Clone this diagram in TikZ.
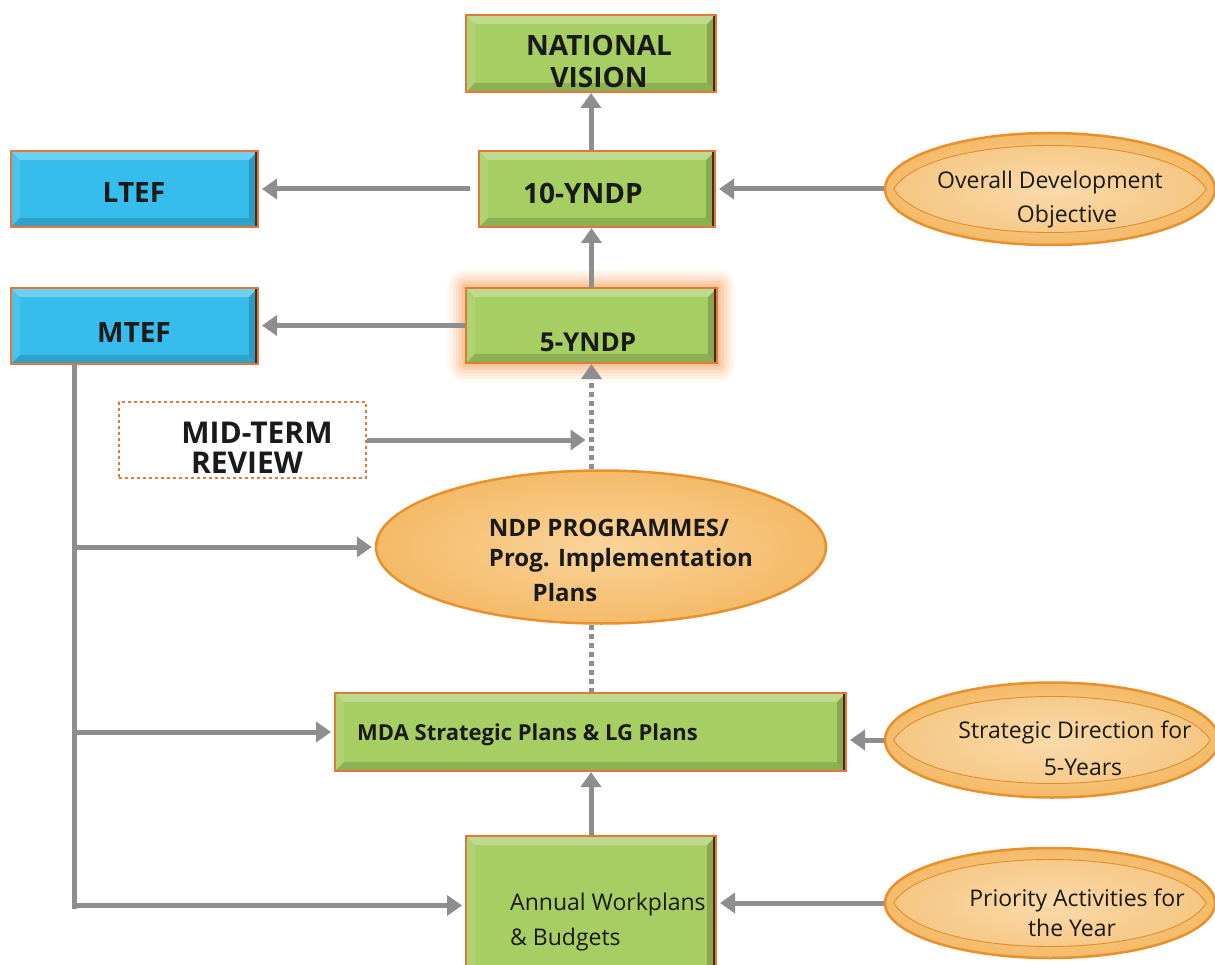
\documentclass[tikz,border=0pt]{standalone}
\usepackage{fontspec}
\setmainfont{Open Sans}
\usetikzlibrary{shapes.geometric,arrows.meta,backgrounds}

\definecolor{boxgreen}{HTML}{A6CE62}
\definecolor{boxblue}{HTML}{37BDEC}
\definecolor{boxedge}{HTML}{E4773A}
\definecolor{darkedge}{HTML}{4A2812}
\definecolor{ovallight}{HTML}{FAD49A}
\definecolor{ovaldark}{HTML}{F4BA68}
\definecolor{ovaledge}{HTML}{E8912C}
\definecolor{arrowgray}{HTML}{8E8E8E}
\definecolor{glow}{HTML}{F8A86A}
\definecolor{inktext}{HTML}{1A1A1A}

\tikzset{
  bevelbox/.style={rectangle, inner sep=0pt, fill=#1, draw=boxedge, line width=2pt,
    path picture={
      \fill[white,opacity=.28] (path picture bounding box.north west) -- (path picture bounding box.north east)
        -- ([shift={(-9pt,-9pt)}]path picture bounding box.north east) -- ([shift={(9pt,-9pt)}]path picture bounding box.north west) -- cycle;
      \fill[white,opacity=.10] (path picture bounding box.north west) -- (path picture bounding box.south west)
        -- ([shift={(9pt,9pt)}]path picture bounding box.south west) -- ([shift={(9pt,-9pt)}]path picture bounding box.north west) -- cycle;
      \fill[black,opacity=.14] (path picture bounding box.south west) -- (path picture bounding box.south east)
        -- ([shift={(-9pt,9pt)}]path picture bounding box.south east) -- ([shift={(9pt,9pt)}]path picture bounding box.south west) -- cycle;
      \fill[black,opacity=.18] (path picture bounding box.north east) -- (path picture bounding box.south east)
        -- ([shift={(-9pt,9pt)}]path picture bounding box.south east) -- ([shift={(-9pt,-9pt)}]path picture bounding box.north east) -- cycle;
      \draw[darkedge,line width=7pt] (path picture bounding box.north east) -- (path picture bounding box.south east);
    }},
  oval/.style={ellipse, inner sep=0pt, draw=ovaledge, line width=2.5pt,
    inner color=ovallight, outer color=ovaldark},
  lens/.style={draw=ovaledge!75!brown, line width=0.9pt, fill=white, fill opacity=.16},
  title/.style={font=\fontsize{28}{32}\selectfont\bfseries, text=inktext, inner sep=0pt, align=center},
  midbold/.style={font=\fontsize{24}{30}\selectfont\bfseries, text=inktext, inner sep=0pt},
  plain/.style={font=\fontsize{23}{28}\selectfont, text=inktext, inner sep=0pt},
  tip/.style={-{Triangle[length=15pt,width=20pt]}},
  arr/.style={draw=arrowgray, line width=5pt, tip},
  bus/.style={draw=arrowgray, line width=5pt},
  dotline/.style={draw=arrowgray, line width=5pt, dash pattern=on 5pt off 4pt},
}

\begin{document}
\begin{tikzpicture}[x=1pt,y=-1pt]
\useasboundingbox (0,0) rectangle (1215,965);
\clip (0,0) rectangle (1215,965);

% boxes of the plan hierarchy
\node[bevelbox=boxgreen, minimum width=250pt, minimum height=77pt] (vision) at (591,53.5) {};
\node[bevelbox=boxblue,  minimum width=247pt, minimum height=76pt] (ltef)   at (134.5,189) {};
\node[bevelbox=boxgreen, minimum width=236pt, minimum height=76pt] (ndp10)  at (597,189) {};
\node[bevelbox=boxblue,  minimum width=247pt, minimum height=76pt] (mtef)   at (134.5,326) {};
\node[bevelbox=boxgreen, minimum width=251pt, minimum height=75pt] (ndp5)   at (591.5,325.5) {};
\node[bevelbox=boxgreen, minimum width=511pt, minimum height=78pt] (mda)    at (590.5,732) {};
\node[bevelbox=boxgreen, minimum width=250pt, minimum height=139pt] (annual) at (591,905.5) {};
\node[rectangle, draw=boxedge, dashed, line width=1.2pt, fill=white,
      minimum width=247pt, minimum height=76pt] (mtr) at (242.5,440) {};

% soft glow behind the five-year plan
\begin{pgfonlayer}{background}
  \foreach \g/\o in {18/0.07,15/0.09,12/0.12,9/0.16,6/0.22,3/0.30}
    \fill[glow, opacity=\o, rounded corners=\g pt]
      ([shift={(-\g pt,\g pt)}]ndp5.north west) rectangle ([shift={(\g pt,-\g pt)}]ndp5.south east);
\end{pgfonlayer}

% ovals
\node[oval, minimum width=450pt, minimum height=153pt] (ndpprog) at (601,547) {};
\node[oval, minimum width=330pt, minimum height=112pt] (ode) at (1050,189) {};
\node[oval, minimum width=334pt, minimum height=115pt] (sdf) at (1052,740) {};
\node[oval, minimum width=330pt, minimum height=110pt] (pay) at (1050,903) {};
% inner lens highlight of the small ovals
\foreach \o in {ode,sdf,pay}
  \draw[lens] ([xshift=10pt]\o.west) .. controls ([shift={(45pt,58pt)}]\o.west) and ([shift={(-45pt,58pt)}]\o.east) .. ([xshift=-10pt]\o.east)
    .. controls ([shift={(-45pt,-58pt)}]\o.east) and ([shift={(45pt,-58pt)}]\o.west) .. cycle;

% labels
\node[title] (visionT) at (599,61) {NATIONAL\\VISION};
\node[title] (ltefT) at (134,193) {LTEF};
\node[title] (ndp10T) at (583,193) {10-YNDP};
\node[title] (mtefT) at (134,333) {MTEF};
\node[title, font=\fontsize{26}{30}\selectfont\bfseries] (ndp5T) at (588,342) {5-YNDP};
\node[title, font=\fontsize{30}{32}\selectfont\bfseries] (mtrA) at (257,433) {MID-TERM};
\node[title, font=\fontsize{30}{32}\selectfont\bfseries] (mtrB) at (247,463) {REVIEW};
\node[midbold] (ndpA) at (609,528) {NDP PROGRAMMES/};
\node[midbold] (ndpB) at (621,560) {Prog. Implementation};
\node[midbold] (ndpC) at (565,592) {Plans};
\node[midbold, font=\fontsize{22}{28}\selectfont\bfseries, anchor=west] (mdaT) at (357,735) {MDA Strategic Plans \& LG Plans};
\node[plain, anchor=west] (annA) at (510,905) {Annual Workplans};
\node[plain, anchor=west] (annB) at (510,940) {\& Budgets};
\node[plain] (odeA) at (1050,183) {Overall Development};
\node[plain] (odeB) at (1067,217) {Objective};
\node[plain] (sdfA) at (1075,732) {Strategic Direction for};
\node[plain] (sdfB) at (1083,767) {5-Years};
\node[plain] (payA) at (1077,900) {Priority Activities for};
\node[plain] (payB) at (1072,928) {the Year};

% upward chain
\draw[arr] (vision.south |- ndp10.north) -- (vision.south);
\draw[arr] (ndp5.north) -- (ndp5.north |- ndp10.south);
\draw[dotline, tip] (ndp5.south |- ndpprog.north) -- (ndp5.south);
\draw[dotline] (ndp5.south |- ndpprog.south) -- (ndp5.south |- mda.north);
\draw[arr] (annual.north) -- (annual.north |- mda.south);

% frameworks fed from the plans
\draw[arr, shorten <=8pt, shorten >=3pt] (ndp10.west) -- (ltef.east);
\draw[arr, shorten >=3pt] (ndp5.west) -- (ndp5.west -| mtef.east);
\draw[arr, shorten >=6pt] (mtr.east) -- (mtr.east -| ndp5.south);

% objectives feeding the plans
\draw[arr, shorten >=3pt] (ode.west) -- (ode.west -| ndp10.east);
\draw[arr, shorten >=3pt] (sdf.west) -- (sdf.west -| mda.east);
\draw[arr, shorten >=3pt] (pay.west) -- (pay.west -| annual.east);

% MTEF distribution bus
\path (mtef.south west) ++(64,0) coordinate (bus0);
\coordinate (busEnd) at ([yshift=-3pt]bus0 |- annual);
\draw[bus] (bus0) -- (busEnd);
\draw[arr, shorten >=3pt] (bus0 |- ndpprog) -- (ndpprog.west);
\draw[arr, shorten >=3pt] (bus0 |- mda) -- (mda.west);
\draw[arr, shorten >=3pt] (bus0 |- annual) -- (annual.west);
\end{tikzpicture}
\end{document}
